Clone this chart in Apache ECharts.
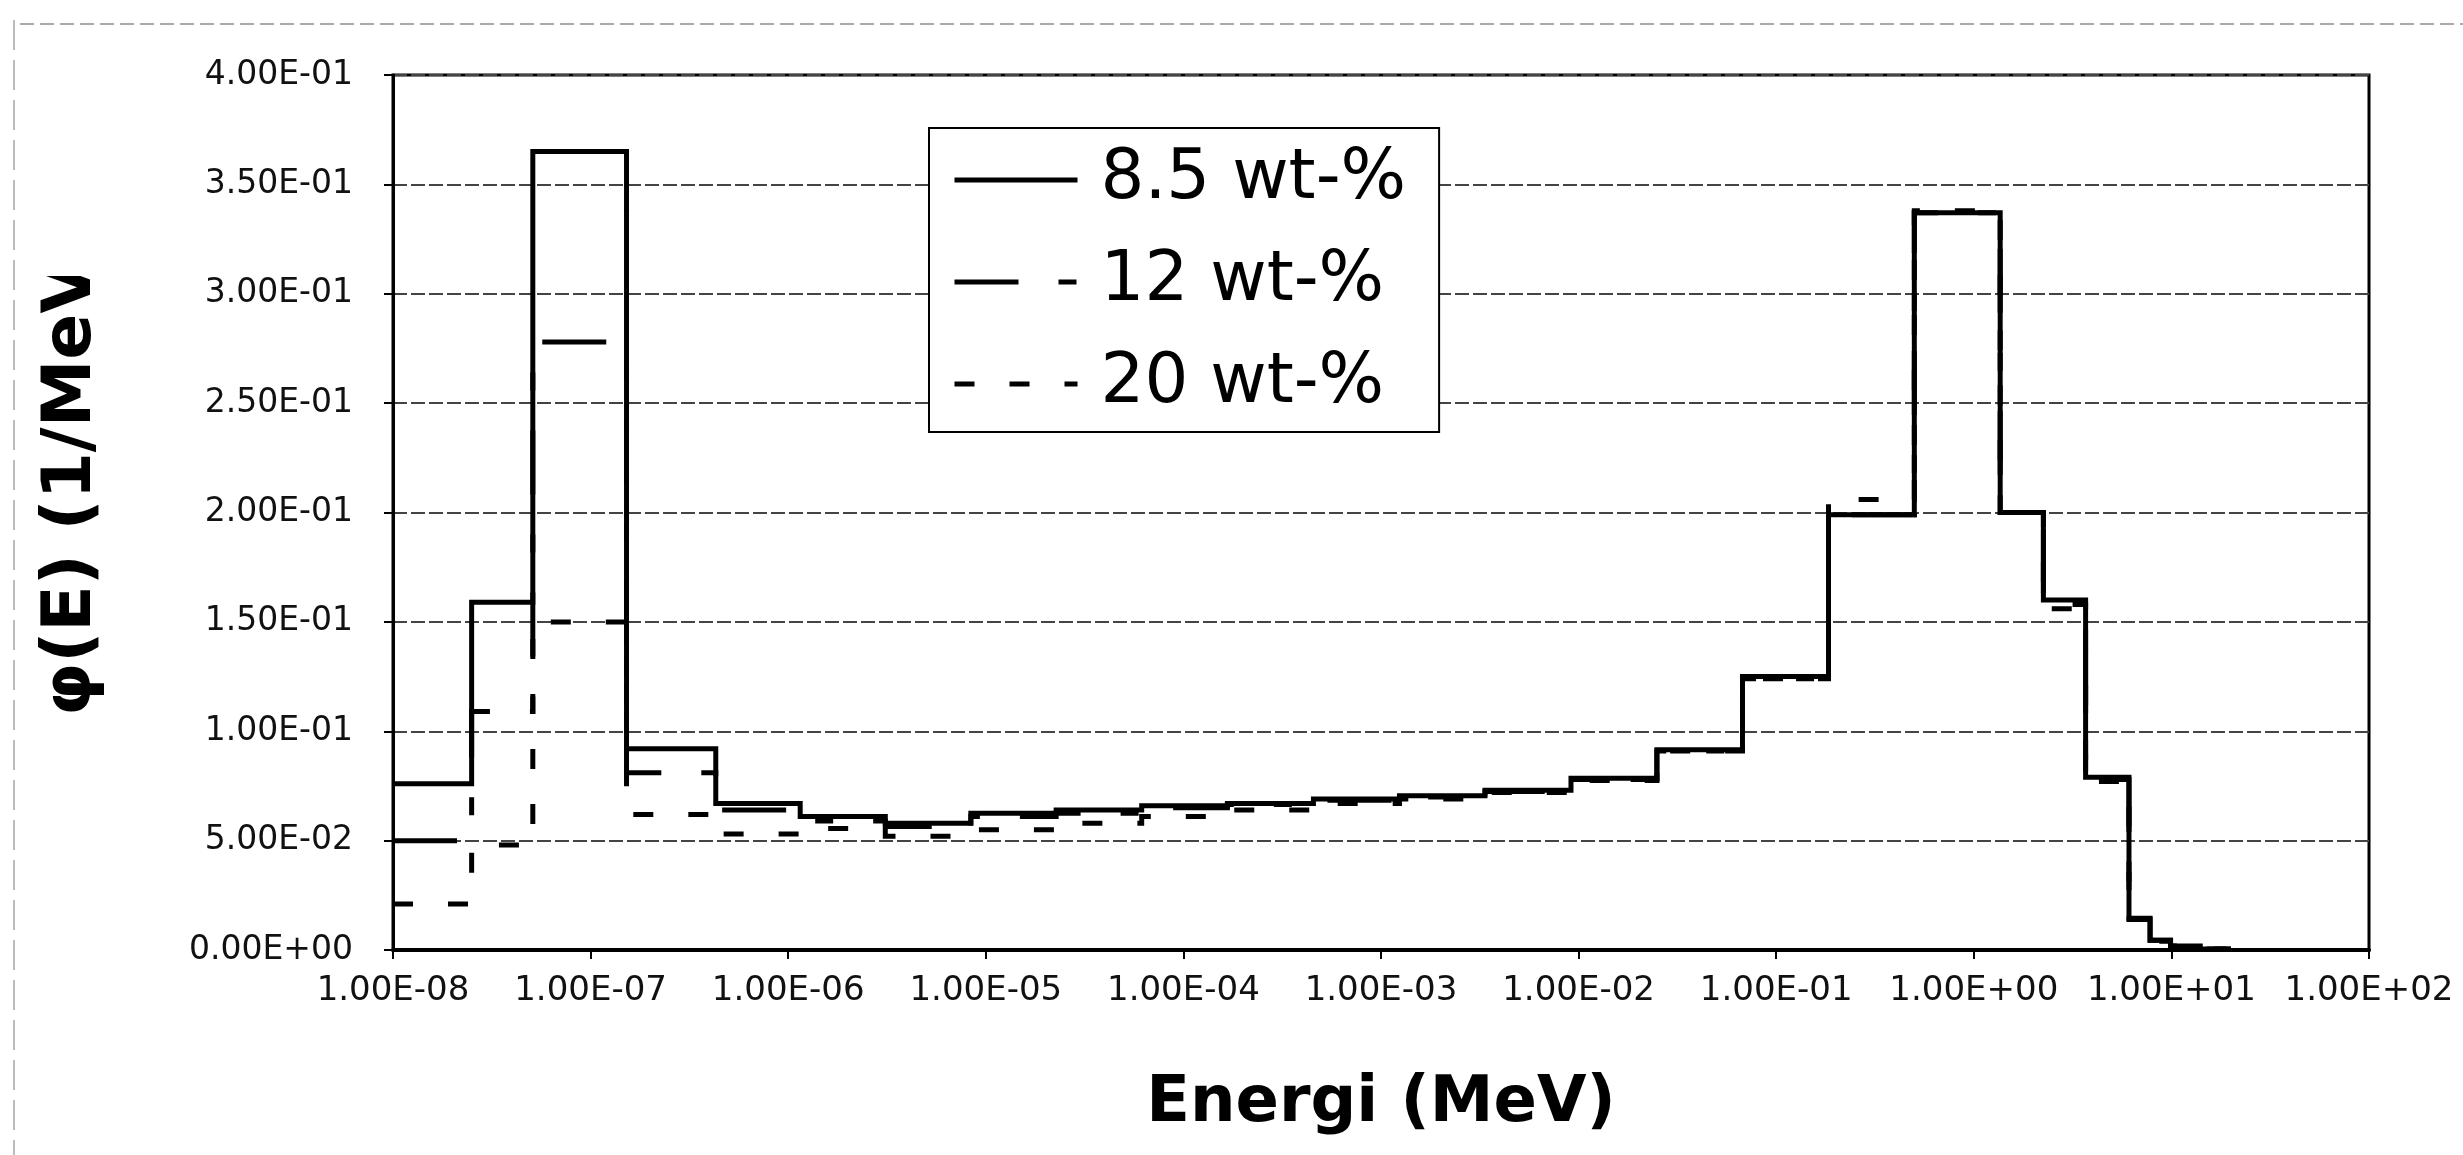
<!DOCTYPE html>
<html>
<head>
<meta charset="utf-8">
<script src="https://cdn.jsdelivr.net/npm/echarts@6/dist/echarts.min.js"></script>
<style>
html,body{margin:0;padding:0;background:#fff;}
#chart{width:2463px;height:1155px;}
</style>
</head>
<body>
<div id="chart"></div>
<script>
// Energy group edges (MeV)
const edgesMeV = [1e-8, 2.5e-8, 5.1e-8, 1.52e-7, 4.3e-7, 1.15e-6, 3.1e-6, 8.4e-6, 2.27e-5, 6.15e-5,
  1.67e-4, 4.55e-4, 1.24e-3, 3.36e-3, 9.15e-3, 2.49e-2, 6.75e-2, 0.184, 0.5, 1.36,
  2.25, 3.68, 6.1, 7.8, 9.9, 14, 20];

// group flux values phi(E) (1/MeV) per group
const phi85 = [0.076, 0.159, 0.365, 0.092, 0.067, 0.061, 0.058, 0.0625, 0.064, 0.066,
  0.067, 0.069, 0.0705, 0.073, 0.0785, 0.0915, 0.125, 0.199, 0.337, 0.200,
  0.160, 0.079, 0.0145, 0.0045, 0.0018, 0.0005];
const phi12 = [0.050, 0.109, 0.278, 0.081, 0.064, 0.059, 0.0565, 0.061, 0.0625, 0.065,
  0.0665, 0.0685, 0.070, 0.0725, 0.078, 0.091, 0.124, 0.199, 0.337, 0.200,
  0.158, 0.078, 0.014, 0.0045, 0.0018, 0.0005];
const phi20 = [0.021, 0.048, 0.150, 0.062, 0.053, 0.0555, 0.052, 0.055, 0.058, 0.061,
  0.064, 0.067, 0.069, 0.072, 0.0775, 0.091, 0.124, 0.206, 0.338, 0.200,
  0.156, 0.077, 0.014, 0.004, 0.0015, 0.0005];

const seriesNames = ['8.5 wt-%', '12 wt-%', '20 wt-%'];

const xTickLabels = ['1.00E-08', '1.00E-07', '1.00E-06', '1.00E-05', '1.00E-04', '1.00E-03',
  '1.00E-02', '1.00E-01', '1.00E+00', '1.00E+01', '1.00E+02'];
const yTickLabels = ['0.00E+00', '5.00E-02', '1.00E-01', '1.50E-01', '2.00E-01', '2.50E-01',
  '3.00E-01', '3.50E-01', '4.00E-01'];

const xTitle = 'Energi (MeV)';
const yTitle = 'φ(E) (1/MeV)';

// x axis is logarithmic in energy: positions use log10(E) on a value axis
function histPoints(vals) {
  const pts = [];
  for (let i = 0; i < vals.length; i++) {
    pts.push([Math.log10(edgesMeV[i]), vals[i]]);
    pts.push([Math.log10(edgesMeV[i + 1]), vals[i]]);
  }
  return pts;
}

const chart = echarts.init(document.getElementById('chart'), null, {renderer: 'canvas'});

chart.setOption({
  backgroundColor: '#ffffff',
  animation: false,
  grid: {left: 393, right: 94, top: 75, bottom: 205, show: true,
    borderColor: '#000', borderWidth: 3, backgroundColor: 'transparent'},
  legend: {
    data: seriesNames,
    orient: 'vertical',
    left: 929, top: 128,
    padding: [16, 33, 12, 23],
    itemGap: 30,
    itemWidth: 123,
    itemHeight: 20,
    backgroundColor: '#fff',
    borderColor: '#000',
    borderWidth: 2,
    borderRadius: 0,
    itemStyle: {opacity: 0},
    lineStyle: {width: 5},
    textStyle: {fontFamily: 'DejaVu Sans', fontSize: 69, color: '#000', lineHeight: 72, padding: [0, 0, 0, 18]}
  },
  xAxis: {
    type: 'value', min: -8, max: 2, interval: 1,
    axisLine: {show: true, onZero: false, lineStyle: {color: '#000', width: 4}},
    axisTick: {show: true, inside: false, length: 9, lineStyle: {color: '#000', width: 2}},
    splitLine: {show: false},
    axisLabel: {
      show: true, margin: 24, showMinLabel: true, showMaxLabel: true, hideOverlap: false,
      fontFamily: 'DejaVu Sans', fontSize: 34, color: '#111',
      formatter: function (v) {
        const k = Math.round(v) + 8;
        return xTickLabels[k] !== undefined ? xTickLabels[k] : '';
      }
    }
  },
  yAxis: {
    type: 'value', min: 0, max: 0.4, interval: 0.05,
    axisLine: {show: true, onZero: false, lineStyle: {color: '#000', width: 3}},
    axisTick: {show: true, inside: false, length: 9, lineStyle: {color: '#000', width: 2}},
    splitLine: {show: true, lineStyle: {color: '#444', width: 2, type: [14, 4]}},
    axisLabel: {
      margin: 40, fontFamily: 'DejaVu Sans', fontSize: 33, color: '#111',
      formatter: function (v) {
        const k = Math.round(v / 0.05);
        return yTickLabels[k] !== undefined ? yTickLabels[k] : '';
      }
    }
  },
  series: [
    {name: seriesNames[0], type: 'line', data: histPoints(phi85), showSymbol: false, symbol: 'none', z: 5,
      lineStyle: {color: '#000', width: 5, type: 'solid', join: 'miter', cap: 'butt'},
      itemStyle: {color: '#000'}},
    {name: seriesNames[1], type: 'line', data: histPoints(phi12), showSymbol: false, symbol: 'none', z: 4,
      lineStyle: {color: '#000', width: 5, type: [64, 40, 18, 40], join: 'miter', cap: 'butt'},
      itemStyle: {color: '#000'}},
    {name: seriesNames[2], type: 'line', data: histPoints(phi20), showSymbol: false, symbol: 'none', z: 3,
      lineStyle: {color: '#000', width: 5, type: [20, 35], join: 'miter', cap: 'butt'},
      itemStyle: {color: '#000'}}
  ],
  graphic: [
    {type: 'text', x: 1381, y: 1104, z: 10,
      style: {text: xTitle, font: 'bold 64px "DejaVu Sans"', fill: '#000', textAlign: 'center', textVerticalAlign: 'middle'}},
    {type: 'text', x: 72, y: 716, rotation: Math.PI / 2, z: 10,
      style: {text: yTitle, font: 'bold 68px "DejaVu Sans"', fill: '#000', textAlign: 'left', textVerticalAlign: 'middle'}},
    {type: 'rect', shape: {x: 25, y: 0, width: 100, height: 276}, z: 20,
      style: {fill: '#fff'}},
    {type: 'line', shape: {x1: 20, y1: 24, x2: 2463, y2: 24}, z: 30,
      style: {stroke: '#aaa', lineWidth: 2, lineDash: [14, 6]}},
    {type: 'line', shape: {x1: 14, y1: 20, x2: 14, y2: 1155}, z: 30,
      style: {stroke: '#bbb', lineWidth: 2, lineDash: [30, 10]}}
  ]
});
</script>
</body>
</html>
